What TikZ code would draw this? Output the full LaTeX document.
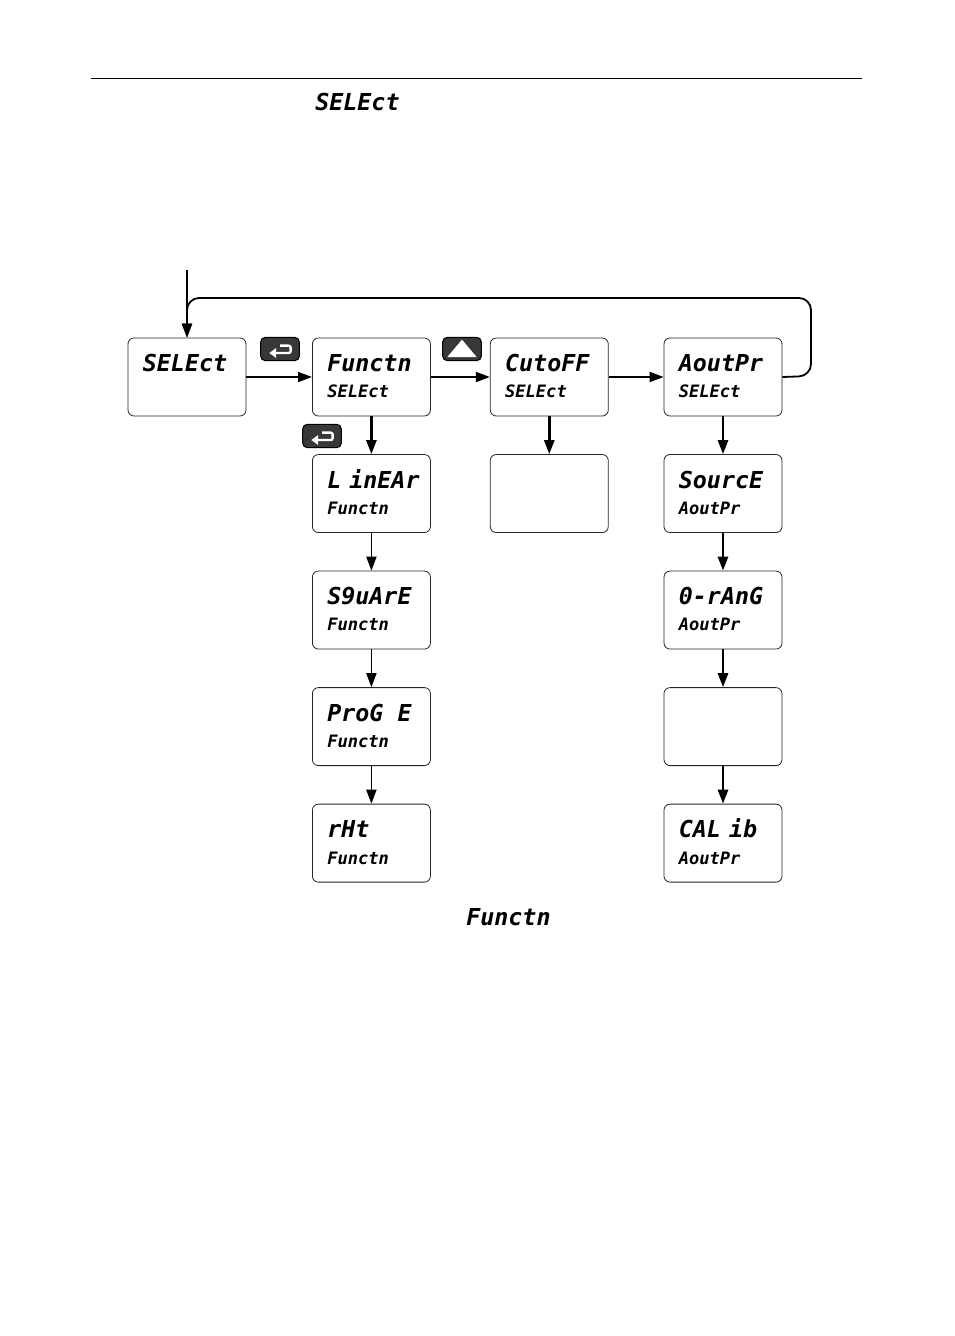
\documentclass[tikz,border=0pt]{standalone}
\usepackage{fontspec}
\newfontfamily\segfont{DejaVu Sans Mono}
\usetikzlibrary{positioning,arrows.meta}

\begin{document}
\begin{tikzpicture}[x=0.75pt,y=-0.75pt,
        screen/.style={rectangle, draw=black!85, line width=0.6pt, rounded corners=4.5pt, fill=white, minimum width=88.5pt, minimum height=58.5pt},
        bigseg/.style={anchor=base west, inner sep=0pt, font=\segfont\bfseries\itshape\fontsize{17.5pt}{17.5pt}\selectfont},
        smallseg/.style={anchor=base west, inner sep=0pt, font=\segfont\bfseries\itshape\fontsize{12.8pt}{12.8pt}\selectfont},
        link/.style={draw=black, line width=1.35pt, -{Triangle[length=10.5pt,width=7.5pt]}},
        thicklink/.style={link, line width=1.95pt},
        loopback/.style={link, rounded corners=9pt},
        keycap/.style={rectangle, draw=black, fill=black!78, line width=0.8pt, rounded corners=3.5pt, minimum width=29pt, minimum height=17.5pt, inner sep=0pt}
    ]
        \useasboundingbox (0,0) rectangle (954,1336);

        % top of page
        \coordinate (ruleL) at (91,78);
        \coordinate (ruleR) at (862,78);
        \draw[line width=0.7pt] (ruleL) -- (ruleR);
        \node[bigseg] (titlesel) at (315,110) {SELEct};

        % first row
        \node[screen] (select) at (187,377) {};
        \node[screen, right=49.2pt of select] (functn) {};
        \node[screen, right=44.3pt of functn] (cutoff) {};
        \node[screen, right=41.2pt of cutoff] (aoutpr) {};

        % left column
        \node[screen, below=28.3pt of functn] (linear) {};
        \node[screen, below=28.3pt of linear] (square) {};
        \node[screen, below=28.3pt of square] (proge) {};
        \node[screen, below=28.3pt of proge] (rht) {};

        % middle column
        \node[screen, below=28.3pt of cutoff] (cutval) {};

        % right column
        \node[screen, below=28.3pt of aoutpr] (source) {};
        \node[screen, below=28.3pt of source] (orang) {};
        \node[screen, below=28.3pt of orang] (blank) {};
        \node[screen, below=28.3pt of blank] (calib) {};

        \foreach \scr/\upper in {select/SELEct,functn/Functn,cutoff/CutoFF,aoutpr/AoutPr,linear/L {\kern-4.5pt}inEAr,square/S9uArE,proge/ProG E,rht/rHt,source/SourcE,orang/0-rAnG,calib/CAL {\kern-4.5pt}ib} {
            \node[bigseg] (\scr upper) at ([xshift=11.25pt,yshift=-25.5pt]\scr.north west) {\upper};
        }
        \foreach \scr/\lower in {functn/SELEct,cutoff/SELEct,aoutpr/SELEct,linear/Functn,square/Functn,proge/Functn,rht/Functn,source/AoutPr,orang/AoutPr,calib/AoutPr} {
            \node[smallseg] (\scr lower) at ([xshift=11.25pt,yshift=-45.2pt]\scr.north west) {\lower};
        }

        \node[bigseg] (titlefun) at (466,925) {Functn};

        % keys
        \node[keycap] (enterA) at (280,349) {};
        \node[keycap] (enterB) at (322,436) {};
        \node[keycap] (upkey) at (462,349) {};
        \foreach \key in {enterA,enterB} {
            \draw[white, line width=1.8pt, rounded corners=1.5pt, -{Triangle[length=5pt,width=7pt]}] ([xshift=0pt,yshift=2.5pt]\key.center) -- ([xshift=8pt,yshift=2.5pt]\key.center) -- ([xshift=8pt,yshift=-3pt]\key.center) -- ([xshift=-8pt,yshift=-3pt]\key.center);
        }
        \fill[white] ([xshift=-11pt,yshift=-6pt]upkey.center) -- ([xshift=11pt,yshift=-6pt]upkey.center) -- ([yshift=7pt]upkey.center) -- cycle;

        % connectors
        \coordinate (entry) at (187,270);
        \coordinate (loopA) at (811,376);
        \coordinate (loopB) at (811,298);
        \coordinate (loopC) at (187,298);
        \draw[link] (entry) -- (select.north);
        \draw[loopback] (aoutpr.east) -- (loopA) -- (loopB) -- (loopC) -- (select.north);
        \draw[link] (select) -- (functn);
        \draw[link] (functn) -- (cutoff);
        \draw[link] (cutoff) -- (aoutpr);
        \draw[thicklink] (functn) -- (linear);
        \draw[link] (linear) -- (square);
        \draw[link] (square) -- (proge);
        \draw[link] (proge) -- (rht);
        \draw[thicklink] (cutoff) -- (cutval);
        \draw[thicklink] (aoutpr) -- (source);
        \draw[thicklink] (source) -- (orang);
        \draw[thicklink] (orang) -- (blank);
        \draw[thicklink] (blank) -- (calib);
    \end{tikzpicture}
\end{document}
